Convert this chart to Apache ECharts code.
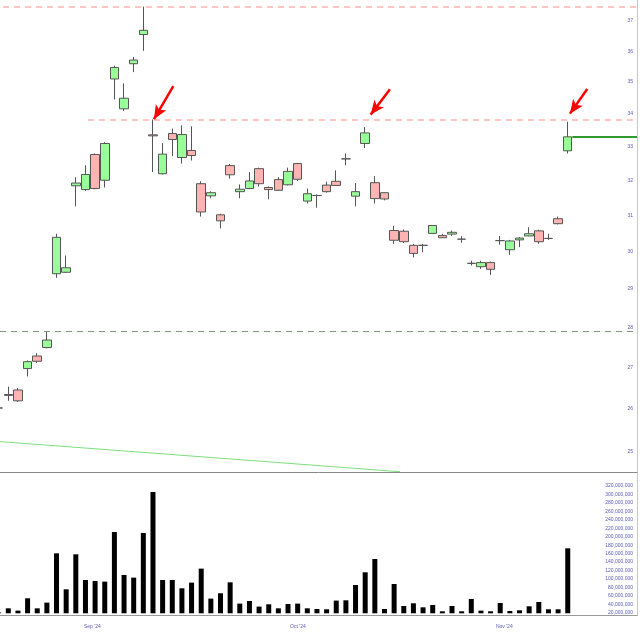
<!DOCTYPE html>
<html><head><meta charset="utf-8">
<script src="https://cdn.jsdelivr.net/npm/echarts@6/dist/echarts.min.js"></script>
<style>html,body{margin:0;padding:0;background:#fff}#c{width:640px;height:636px}</style>
</head><body><div id="c"></div>
<script>
// daily candles (first one is only partly visible at the left edge)
const openP  = [26.02,26.32,26.45,26.97,27.28,27.49,29.40,29.44,31.85,31.74,32.77,32.01,35.10,34.16,35.59,36.55,33.36,32.20,33.40,32.68,32.89,31.91,31.56,31.02,32.44,31.68,31.77,32.35,31.80,32.03,31.88,32.50,31.41,31.57,31.87,31.98,32.64,31.55,33.10,31.94,31.65,30.58,30.56,30.17,30.17,30.50,30.44,30.48,30.34,29.68,29.59,29.70,30.30,30.05,30.32,30.43,30.57,30.36,30.91,32.88];
const closeP = [26.02,26.34,26.19,27.14,27.15,27.68,30.39,29.56,31.93,32.18,31.77,33.10,35.47,34.49,35.71,36.69,33.33,32.78,33.22,33.37,32.74,31.10,31.65,30.85,32.17,31.75,31.99,31.91,31.74,31.72,32.27,32.04,31.62,31.57,31.68,31.86,32.64,31.68,33.42,31.48,31.47,30.31,30.27,29.95,30.17,30.72,30.38,30.53,30.34,29.68,29.70,29.52,30.30,30.29,30.37,30.49,30.27,30.36,30.77,33.30];
const lowP   = [26.00,26.19,26.16,26.78,27.11,27.47,29.29,29.42,31.26,31.70,31.75,31.80,34.45,34.09,35.32,36.01,32.25,32.18,32.72,32.50,32.59,30.97,31.49,30.64,32.06,31.49,31.75,31.83,31.46,31.70,31.86,31.99,31.34,31.22,31.65,31.86,32.45,31.26,32.96,31.34,31.43,30.21,30.23,29.84,29.98,30.49,30.37,30.43,30.24,29.62,29.53,29.37,30.19,29.91,30.12,30.42,30.21,30.32,30.75,32.80];
const highP  = [26.04,26.53,26.50,27.17,27.35,27.88,30.49,29.89,32.10,32.45,32.80,33.14,35.53,34.96,35.81,37.49,33.83,33.11,33.55,33.65,33.62,31.98,31.69,31.05,32.49,31.89,32.25,32.38,31.83,32.10,32.38,32.52,31.77,31.60,31.97,32.30,32.80,31.93,33.60,32.13,31.66,30.71,30.61,30.21,30.21,30.73,30.49,30.58,30.42,29.75,29.75,29.73,30.43,30.32,30.40,30.67,30.60,30.49,30.97,33.76];
const volumeM = [2,11.8,6.4,35.5,11.8,25.3,142,56.8,139.7,78.8,76.5,75,192.5,90.7,84.5,190.1,287.2,78.8,78.8,59.2,72.7,105.8,34.8,47.4,73.4,23,29.1,15.9,21.3,11.8,22,23,11.8,10.2,9.5,30.1,30.8,67,97.1,128.6,10.2,69.4,17.3,23.7,14.2,19.7,4.7,17.3,4.7,33.9,6.4,4.7,24.4,5.4,7.1,16.6,26.8,9.5,9.5,153.9];

// month labels (position in trading-day units) and price / volume tick labels
const monthLabels = ["Sep '24", "Oct '24", "Nov '24"];
const monthPos = [8.71, 30.03, 51.42];
const priceTicks = [25,26,27,28,29,30,31,32,33,34,35,36,37];
const volumeTicks = [20,40,60,80,100,120,140,160,180,200,220,240,260,280,300,320].map(v => v * 1e6);

// drawn levels
const upperLevel = 37.50;
const resistance = 33.82;
const supportLevel = 27.89;
const trendStart = [-0.86, 25.236];
const trendEnd = [40.61, 24.554];
const arrows = [
  [[17.11, 34.87], [15.10, 33.84]],
  [[39.57, 34.77], [37.57, 33.98]],
  [[60.02, 34.78], [58.23, 34.01]]
];

const dayIndex = openP.map((_, i) => i - 1);
const xMin = -0.86, xMax = 65.18;
const lastIdx = dayIndex[dayIndex.length - 1];
const lastClose = closeP[closeP.length - 1];

const candleData = dayIndex.map((d, i) => [d, openP[i], closeP[i], lowP[i], highP[i]]);
const volData = dayIndex.map((d, i) => [d, volumeM[i] * 1e6]);

const labelColor = '#5a5ab8';
const fontFam = 'Liberation Sans, Arial, sans-serif';

const ml = [];
ml.push([{coord: [-0.55, upperLevel], lineStyle: {color: '#ffb3b3', type: [6, 5], width: 1.5}}, {coord: [xMax, upperLevel]}]);
ml.push([{coord: [8.26, resistance], lineStyle: {color: '#ffb3b3', type: [6, 5], width: 1.5}}, {coord: [xMax, resistance]}]);
ml.push([{coord: [xMin, supportLevel], lineStyle: {color: '#789a78', type: [6, 5], width: 1}}, {coord: [xMax, supportLevel]}]);
ml.push([{coord: [lastIdx + 0.47, lastClose], lineStyle: {color: '#2e9a2e', type: 'solid', width: 2}}, {coord: [xMax, lastClose]}]);
ml.push([{coord: trendStart, lineStyle: {color: '#7be07b', type: 'solid', width: 1}}, {coord: trendEnd}]);
arrows.forEach(a => {
  ml.push([{coord: a[0], symbol: 'none', lineStyle: {color: '#ff0000', type: 'solid', width: 2.5}},
           {coord: a[1], symbol: 'arrow', symbolSize: [9, 14], itemStyle: {color: '#ff0000'}}]);
});

const chart = echarts.init(document.getElementById('c'), null, {renderer: 'canvas'});
chart.setOption({
  animation: false,
  backgroundColor: '#fff',
  grid: [
    {left: 0, right: 3, top: 0, height: 472, outerBoundsMode: 'none', containLabel: false},
    {left: 0, right: 3, top: 472, height: 143.7, outerBoundsMode: 'none', containLabel: false}
  ],
  xAxis: [
    {type: 'value', gridIndex: 0, min: xMin, max: xMax,
     axisLine: {show: true, onZero: false, lineStyle: {color: '#888', width: 1}},
     axisTick: {show: false}, axisLabel: {show: false}, splitLine: {show: false}},
    {type: 'value', gridIndex: 1, min: xMin, max: xMax,
     axisLine: {show: true, onZero: false, lineStyle: {color: '#999', width: 1}},
     axisTick: {show: false}, splitLine: {show: false},
     axisLabel: {customValues: monthPos, fontSize: 5, color: labelColor, fontFamily: fontFam, margin: 8,
       formatter: v => { const k = monthPos.findIndex(p => Math.abs(p - v) < 1e-6); return k >= 0 ? monthLabels[k] : ''; }}}
  ],
  yAxis: [
    {type: 'log', gridIndex: 0, position: 'right', min: 24.548, max: 37.715,
     axisLine: {show: true, onZero: false, lineStyle: {color: '#c8c8c8'}}, axisTick: {show: false}, splitLine: {show: false},
     axisLabel: {inside: true, customValues: priceTicks, fontSize: 5, color: labelColor, fontFamily: fontFam, margin: 4,
       formatter: v => String(Math.round(v))}},
    // volume scale for the bars
    {type: 'value', gridIndex: 1, position: 'right', min: -5.68e6, max: 334.6e6,
     axisLine: {show: true, onZero: false, lineStyle: {color: '#c8c8c8'}}, axisTick: {show: false}, splitLine: {show: false},
     axisLabel: {show: false}},
    // volume tick labels (drawn slightly below their bar levels, as in the source chart)
    {type: 'value', gridIndex: 1, position: 'right', min: 12.9e6, max: 353.15e6,
     axisLine: {show: false, onZero: false}, axisTick: {show: false}, splitLine: {show: false},
     axisLabel: {inside: true, customValues: volumeTicks, fontSize: 5, color: labelColor, fontFamily: fontFam, margin: 4,
       showMinLabel: true, showMaxLabel: true, hideOverlap: false,
       formatter: v => Math.round(v).toLocaleString('en-US')}}
  ],
  series: [
    {type: 'candlestick', xAxisIndex: 0, yAxisIndex: 0, data: candleData,
     encode: {x: 0, y: [1, 2, 3, 4]}, barWidth: 9,
     itemStyle: {color: '#99ff99', color0: '#ffb3b3', borderColor: '#555', borderColor0: '#555', borderWidth: 1},
     markLine: {silent: true, animation: false, symbol: ['none', 'none'], label: {show: false},
       emphasis: {disabled: true}, data: ml}},
    {type: 'bar', xAxisIndex: 1, yAxisIndex: 1, data: volData, barWidth: 5,
     itemStyle: {color: '#000'}}
  ]
});
</script></body></html>
